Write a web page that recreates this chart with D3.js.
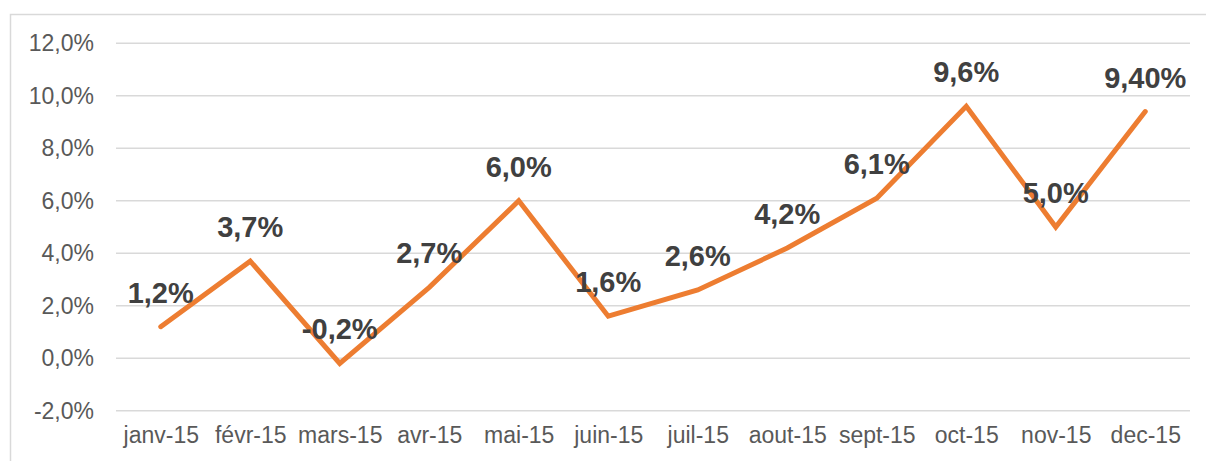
<!DOCTYPE html>
<html>
<head>
<meta charset="utf-8">
<script src="https://cdn.jsdelivr.net/npm/d3@7"></script>
<style>
  body { margin: 0; background: #fff; }
  svg { display: block; font-family: "Liberation Sans", Arial, sans-serif; }
</style>
</head>
<body>
<div id="chart"></div>
<script>
// DATA
const months = ["janv-15", "févr-15", "mars-15", "avr-15", "mai-15", "juin-15",
  "juil-15", "aout-15", "sept-15", "oct-15", "nov-15", "dec-15"];
const values = [1.2, 3.7, -0.2, 2.7, 6.0, 1.6, 2.6, 4.2, 6.1, 9.6, 5.0, 9.4];
const valueLabels = ["1,2%", "3,7%", "-0,2%", "2,7%", "6,0%", "1,6%",
  "2,6%", "4,2%", "6,1%", "9,6%", "5,0%", "9,40%"];
const yTicks = [-2, 0, 2, 4, 6, 8, 10, 12];

const width = 1206;
const height = 461;
const margin = { top: 43.3, right: 16, bottom: 50.3, left: 116 };

const svg = d3.select("#chart")
  .append("svg")
  .attr("width", width)
  .attr("height", height);

// chart frame (extends past right/bottom edge like the screenshot)
svg.append("rect")
  .attr("x", 10.5)
  .attr("y", 14.5)
  .attr("width", 1300)
  .attr("height", 500)
  .attr("fill", "none")
  .attr("stroke", "#d9d9d9")
  .attr("stroke-width", 1.5);

const x = d3.scalePoint()
  .domain(months)
  .range([margin.left, width - margin.right])
  .padding(0.5);

const y = d3.scaleLinear()
  .domain([-2, 12])
  .range([height - margin.bottom, margin.top]);

const fmt = (d) => d.toFixed(1).replace(".", ",") + "%";

// GRIDLINES
svg.append("g")
  .selectAll("line")
  .data(yTicks)
  .join("line")
  .attr("x1", margin.left)
  .attr("x2", width - margin.right)
  .attr("y1", (d) => y(d))
  .attr("y2", (d) => y(d))
  .attr("stroke", "#d9d9d9")
  .attr("stroke-width", 1.5);

// Y AXIS
const yAxis = svg.append("g")
  .attr("transform", `translate(${margin.left - 22},0)`)
  .call(d3.axisLeft(y).tickValues(yTicks).tickFormat(fmt).tickSize(0).tickPadding(0));
yAxis.select(".domain").remove();
yAxis.selectAll("text")
  .style("font-size", "23px")
  .attr("fill", "#595959");

// X AXIS
const xAxis = svg.append("g")
  .attr("transform", `translate(0,${height - margin.bottom})`)
  .call(d3.axisBottom(x).tickSize(0).tickPadding(16));
xAxis.select(".domain").remove();
xAxis.selectAll("text")
  .style("font-size", "23px")
  .attr("fill", "#595959");

// LINE
const line = d3.line()
  .x((d, i) => x(months[i]))
  .y((d) => y(d));

svg.append("path")
  .datum(values)
  .attr("d", line)
  .attr("fill", "none")
  .attr("stroke", "#ED7D31")
  .attr("stroke-width", 5)
  .attr("stroke-linejoin", "miter")
  .attr("stroke-linecap", "round");

// DATA LABELS
svg.append("g")
  .selectAll("text")
  .data(values)
  .join("text")
  .attr("x", (d, i) => x(months[i]))
  .attr("y", (d) => y(d) - 24)
  .attr("text-anchor", "middle")
  .style("font-size", "29px")
  .style("font-weight", "bold")
  .attr("fill", "#404040")
  .text((d, i) => valueLabels[i]);
</script>
</body>
</html>
